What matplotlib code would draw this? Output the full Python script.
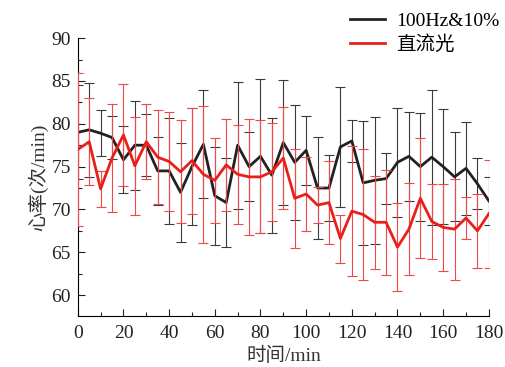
import numpy as np
import matplotlib
matplotlib.use("Agg")
import matplotlib.pyplot as plt
from matplotlib.ticker import MultipleLocator

plt.rcParams['font.family'] = ['Liberation Serif', 'Noto Sans CJK SC']

minutes = list(range(0, 181, 5))

hz_mean = [79.0, 79.3, 78.9, 78.4, 75.8, 77.5, 77.5, 74.5, 74.5, 72.0, 75.0, 77.6, 71.6,
           70.8, 77.5, 75.0, 76.2, 74.0, 77.8, 75.5, 76.9, 72.5, 72.5, 77.3, 78.0,
           73.1, 73.4, 73.6, 75.5, 76.2, 75.0, 76.1, 75.0, 73.8, 74.8, 73.0, 71.0]
hz_sd = [5.5, 5.5, 2.7, 2.5, 3.9, 5.2, 3.6, 4.0, 6.2, 5.8, 6.8, 6.3, 5.7,
         5.2, 7.4, 4.0, 9.0, 6.7, 7.3, 6.7, 4.0, 6.0, 3.9, 7.0, 2.5,
         7.2, 7.4, 3.0, 6.4, 5.2, 6.3, 7.9, 6.7, 5.2, 5.4, 3.0, 2.8]

dc_mean = [77.0, 77.9, 72.4, 76.0, 78.7, 75.1, 77.9, 76.1, 75.6, 74.4, 75.7, 74.1, 73.4,
           75.2, 74.1, 73.8, 73.8, 74.4, 76.0, 71.3, 71.8, 70.5, 70.8, 66.6, 69.8,
           69.4, 68.5, 68.5, 65.6, 67.7, 71.3, 68.6, 67.9, 67.7, 69.0, 67.5, 69.5]
dc_sd = [8.9, 5.1, 2.1, 6.3, 6.0, 5.7, 4.4, 5.5, 5.8, 6.0, 6.2, 8.0, 5.0,
         5.4, 5.8, 6.8, 6.6, 5.7, 6.0, 5.8, 4.3, 2.1, 4.8, 2.8, 7.6,
         7.6, 5.4, 6.1, 5.1, 5.4, 7.0, 4.4, 5.1, 5.9, 2.4, 4.3, 6.3]

labels = ['100Hz&10%', '直流光']

fig = plt.figure(figsize=(5.05, 3.67), dpi=100)
ax = fig.add_axes([0.154, 0.140, 0.814, 0.756])

ax.errorbar(minutes, hz_mean, yerr=hz_sd, color='#222222', lw=2, elinewidth=0.8,
            capsize=3.5, capthick=0.8, ecolor='#3a3a3a', label=labels[0], zorder=3)
ax.errorbar(minutes, dc_mean, yerr=dc_sd, color='#e8201c', lw=2, elinewidth=0.8,
            capsize=3.5, capthick=0.8, ecolor='#f04848', label=labels[1], zorder=4)

ax.set_xlim(0, 180)
ax.set_ylim(57.6, 90)
ax.xaxis.set_major_locator(MultipleLocator(20))
ax.xaxis.set_minor_locator(MultipleLocator(10))
ax.yaxis.set_major_locator(MultipleLocator(5))
ax.yaxis.set_minor_locator(MultipleLocator(2.5))
ax.set_yticks(range(60, 91, 5))
ax.tick_params(which='both', direction='in', labelsize=14, width=0.8, colors='#222222')
ax.tick_params(axis='x', which='major', pad=7)
ax.tick_params(axis='y', which='major', pad=5)
ax.tick_params(which='major', length=5)
ax.tick_params(which='minor', length=3)
for s in ['top', 'right']:
    ax.spines[s].set_visible(False)
for s in ['left', 'bottom']:
    ax.spines[s].set_linewidth(0.8)

ax.set_xlabel('时间/min', fontsize=14, labelpad=3, color='#333333')
ax.set_ylabel('心率(次/min)', fontsize=14, labelpad=2, color='#333333')

handles = [plt.Line2D([], [], color='#222222', lw=2), plt.Line2D([], [], color='#e8201c', lw=2)]
ax.legend(handles, labels, loc='upper right', bbox_to_anchor=(1.045, 1.12), frameon=False,
          fontsize=14, handlelength=1.8, handletextpad=0.6, labelspacing=0.25, borderaxespad=0)

fig.savefig('out.png', dpi=100)
